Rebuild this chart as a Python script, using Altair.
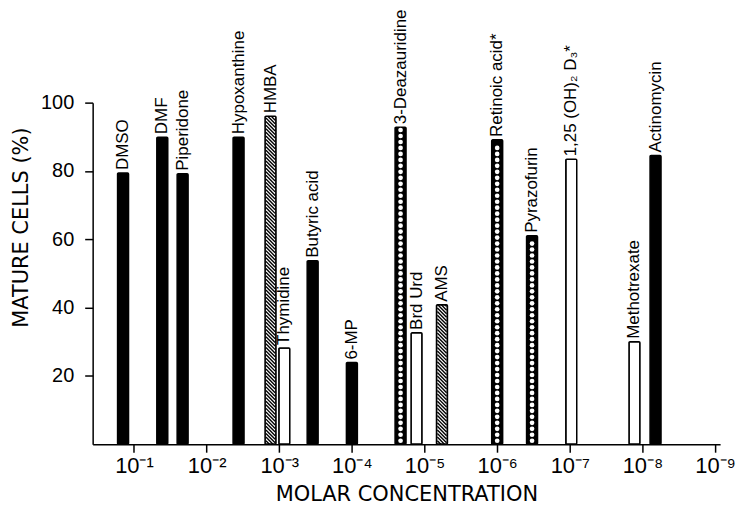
import altair as alt
import pandas as pd
import numpy as np

# ---- data ----
agents = ["DMSO", "DMF", "Piperidone", "Hypoxanthine", "HMBA", "Thymidine",
          "Butyric acid", "6-MP", "3-Deazauridine", "Brd Urd", "AMS",
          "Retinoic acid*", "Pyrazofurin", "1,25 (OH)₂ D₃*", "Methotrexate",
          "Actinomycin"]
# -log10(molar concentration)
neg_log_conc = [0.85, 1.39, 1.67, 2.44, 2.88, 3.07, 3.46, 4.00, 4.67, 4.89,
                5.24, 6.00, 6.48, 7.02, 7.89, 8.18]
mature_pct = [79.4, 89.9, 79.2, 89.9, 96.0, 28.2, 53.7, 23.9, 92.8, 32.6,
              40.8, 89.1, 61.0, 83.4, 30.0, 84.5]
fill_style = ["solid", "solid", "solid", "solid", "hatch", "open", "solid",
              "solid", "cross", "open", "hatch", "cross", "cross", "open",
              "open", "solid"]
x_ticks = [1, 2, 3, 4, 5, 6, 7, 8, 9]
y_ticks = [20, 40, 60, 80, 100]

# ---- layout ----
W, H = 630, 343
XMIN, XMAX = 0.5, 9
ppd = W / (XMAX - XMIN)      # px per decade
ppp = H / 100.0              # px per percent
BAR_W = 11

bars = pd.DataFrame({"agent": agents, "x": neg_log_conc, "y": mature_pct,
                     "style": fill_style})

# hatch segments ("\" direction) inside hatched bars
seg = []
s = 3.6
for _, r in bars[bars["style"] == "hatch"].iterrows():
    h = r["y"] * ppp
    xl = r["x"] - (BAR_W / 2 - 0.8) / ppd
    w = BAR_W - 1.6
    c = s
    while c < h + w:
        u1, u2 = max(0.0, c - h), min(w, c)
        if u2 > u1:
            seg.append({"x": xl + u1 / ppd, "y": (c - u1) / ppp,
                        "x2": xl + u2 / ppd, "y2": (c - u2) / ppp})
        c += s
seg = pd.DataFrame(seg)

# white holes in cross-hatched bars
holes = []
for _, r in bars[bars["style"] == "cross"].iterrows():
    h = r["y"] * ppp
    t = 3.5
    while t < h - 2.5:
        holes.append({"x": r["x"], "y": t / ppp})
        t += 6.0
holes = pd.DataFrame(holes)

xscale = alt.Scale(domain=[XMIN, XMAX], nice=False, zero=False)
yscale = alt.Scale(domain=[0, 100], nice=False)

label_expr = ("'10⁻' + ['⁰','¹','²','³','⁴','⁵','⁶','⁷','⁸','⁹'][datum.value]")

base = alt.Chart(bars)

bar_layer = base.mark_bar(size=BAR_W, stroke="black", strokeWidth=1.5,
                          cornerRadius=1).encode(
    x=alt.X("x:Q", scale=xscale,
            axis=alt.Axis(values=x_ticks, labelExpr=label_expr,
                          title="MOLAR CONCENTRATION")),
    y=alt.Y("y:Q", scale=yscale,
            axis=alt.Axis(values=y_ticks, title="MATURE CELLS (%)",
                          titleY=125)),
    fill=alt.Fill("style:N",
                  scale=alt.Scale(domain=["solid", "hatch", "open", "cross"],
                                  range=["black", "white", "white", "black"]),
                  legend=None),
)

hatch_layer = alt.Chart(seg).mark_rule(color="black", strokeWidth=1.4).encode(
    x=alt.X("x:Q", scale=xscale), y=alt.Y("y:Q", scale=yscale),
    x2="x2:Q", y2="y2:Q")

hole_layer = alt.Chart(holes).mark_circle(color="white", size=22,
                                          opacity=1).encode(
    x=alt.X("x:Q", scale=xscale), y=alt.Y("y:Q", scale=yscale))

text_layer = base.mark_text(angle=270, align="left", baseline="middle",
                            dx=3, font="Liberation Sans", fontSize=17,
                            color="black").encode(
    x=alt.X("x:Q", scale=xscale), y=alt.Y("y:Q", scale=yscale),
    text="agent:N")

chart = alt.layer(bar_layer, hatch_layer, hole_layer, text_layer).properties(
    width=W, height=H,
    autosize=alt.AutoSizeParams(type="none"),
    padding={"left": 85, "top": 94, "right": 22, "bottom": 60},
).configure_view(stroke=None).configure_axis(
    grid=False, domainColor="black", domainWidth=1.5, tickColor="black",
    tickWidth=1.5, tickSize=8, labelColor="black", titleColor="black",
    labelFont="Liberation Sans", titleFont="DejaVu Sans",
    labelFontSize=20, titleFontSize=21, titleFontWeight="normal",
).configure_axisY(labelPadding=11, titlePadding=9).configure_axisX(
    labelPadding=3, titlePadding=7, labelFlush=False, labelFontSize=22)

chart.save("out.html", embed_options={"renderer": "svg", "actions": False})
